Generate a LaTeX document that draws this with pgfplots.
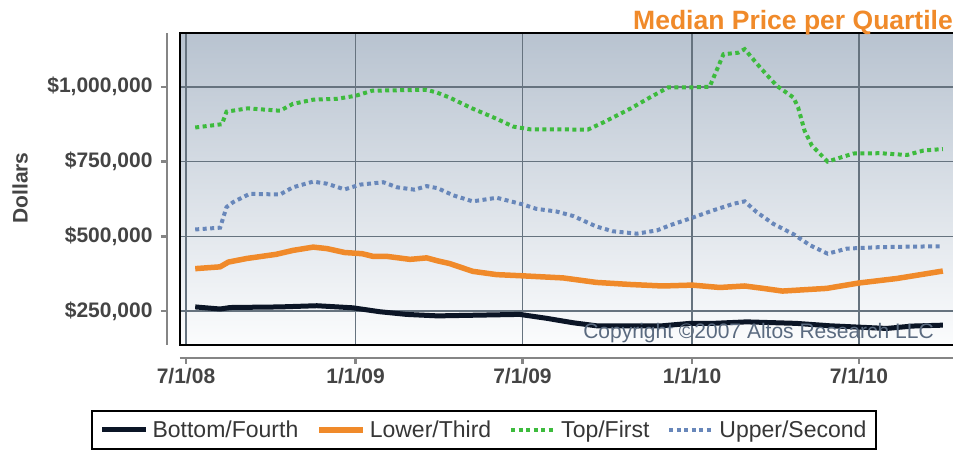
\documentclass[border=0pt]{standalone}
\usepackage{pgfplots}
\pgfplotsset{compat=1.18}
\usepackage{fontspec}
\setmainfont{Liberation Sans}

\definecolor{cBottom}{HTML}{0B1526}
\definecolor{cLower}{HTML}{F08A2A}
\definecolor{cTop}{HTML}{3DBB3D}
\definecolor{cUpper}{HTML}{6887BA}
\definecolor{gridc}{HTML}{66737F}
\definecolor{axisc}{HTML}{858585}
\definecolor{labc}{HTML}{444444}
\definecolor{bgTop}{HTML}{B8C3D0}
\definecolor{bgBot}{HTML}{FBFCFD}
\definecolor{copyc}{HTML}{5B6B80}

% x = days since 7/1/08, y = dollars
\pgfplotstableread{
d val
10 264000
37 257000
48 262000
102 264000
142 268000
181 261000
210 248000
239 239000
273 234000
362 239000
391 226000
420 211000
445 201000
517 201000
547 209000
572 209000
608 214000
662 209000
698 201000
760 192000
788 200000
821 203000
}\bottomq
\pgfplotstableread{
d val
10 392000
37 398000
46 414000
66 426000
98 440000
116 453000
138 464000
153 459000
172 446000
191 442000
203 433000
218 433000
243 423000
261 428000
273 418000
286 409000
311 383000
337 372000
365 368000
409 361000
445 346000
482 339000
517 334000
549 337000
579 329000
606 334000
626 326000
647 317000
695 326000
730 344000
771 359000
821 384000
}\lowerq
\pgfplotstableread{
d val
10 864000
39 875000
44 917000
67 928000
102 920000
116 943000
138 957000
164 960000
184 970000
202 987000
261 990000
272 981000
286 964000
311 927000
337 893000
355 867000
373 858000
436 857000
452 880000
482 927000
503 964000
523 998000
547 998000
568 1000000
583 1109000
599 1114000
606 1126000
623 1064000
641 1003000
659 964000
664 931000
671 853000
679 803000
696 750000
724 777000
753 778000
782 772000
800 787000
821 792000
}\topq
\pgfplotstableread{
d val
10 523000
37 529000
44 598000
51 614000
69 642000
102 640000
116 664000
138 683000
153 676000
172 657000
189 673000
214 681000
229 664000
248 656000
261 668000
273 661000
290 637000
311 617000
337 629000
365 607000
380 592000
402 583000
420 568000
445 533000
463 517000
489 509000
511 520000
525 537000
549 562000
572 587000
594 609000
606 617000
619 581000
637 542000
659 507000
677 470000
696 442000
717 459000
753 464000
821 467000
}\upperq

\begin{document}
\begin{tikzpicture}
\begin{axis}[
  width=773pt, height=312pt, scale only axis,
  xmin=-6.5, xmax=832, ymin=136667, ymax=1180000,
  clip=false,
  axis lines=left,
  axis line style={-, draw=axisc, line width=2.5pt},
  axis x line shift=13pt, axis y line shift=13pt,
  axis background/.style={top color=bgTop, bottom color=bgBot},
  xtick={0,184,365,549,730},
  xticklabels={7/1/08,1/1/09,7/1/09,1/1/10,7/1/10},
  ytick={250000,500000,750000,1000000},
  yticklabels={{\$250,000},{\$500,000},{\$750,000},{\$1,000,000}},
  scaled y ticks=false,
  tick align=outside, major tick length=6pt,
  tick style={draw=axisc, line width=2.5pt},
  ticklabel style={font=\fontsize{21}{25}\selectfont\bfseries, text=labc},
  yticklabel style={xshift=-5pt},
  xticklabel style={yshift=-1pt},
  grid=major,
  grid style={draw=gridc, line width=1.5pt},
  legend columns=4,
  legend style={at={(0.3933,-0.2724)}, anchor=center, draw=black, line width=2pt,
    fill=white, font=\fontsize{23}{27}\selectfont, text=labc!80!black,
    inner xsep=8pt, inner ysep=8pt,
    /tikz/every odd column/.append style={column sep=2pt},
    /tikz/every even column/.append style={column sep=16pt}},
  legend image code/.code={\draw[#1] (0pt,0pt) -- (44pt,0pt);},
]
\addplot[cBottom, line width=5pt, line join=round] table[x=d, y=val] {\bottomq};
\addlegendentry{Bottom/Fourth}
\addplot[cLower, line width=5.5pt, line join=round] table[x=d, y=val] {\lowerq};
\addlegendentry{Lower/Third}
\addplot[cTop, line width=4pt, dash pattern=on 4pt off 3.5pt] table[x=d, y=val] {\topq};
\addlegendentry{Top/First}
\addplot[cUpper, line width=4pt, dash pattern=on 4pt off 3.5pt] table[x=d, y=val] {\upperq};
\addlegendentry{Upper/Second}
\draw[black, line width=2pt] (rel axis cs:1,1) -- (rel axis cs:0,1) -- (rel axis cs:0,0) -- (rel axis cs:1,0);
\end{axis}
\node[anchor=base east, text=cLower, font=\fontsize{26.5}{31}\selectfont\bfseries, inner sep=0pt] at (773pt,315pt) {Median Price per Quartile};
\node[rotate=90, text=labc, font=\fontsize{21}{25}\selectfont\bfseries, inner sep=0pt] at (-160pt,157pt) {Dollars};
\node[anchor=base east, text=copyc, font=\fontsize{21}{25}\selectfont, inner sep=0pt] at (754pt,6pt) {Copyright ©2007 Altos Research LLC};
\pgfresetboundingbox
\path (-180pt,-109pt) rectangle (773pt,345pt);
\end{tikzpicture}
\end{document}
